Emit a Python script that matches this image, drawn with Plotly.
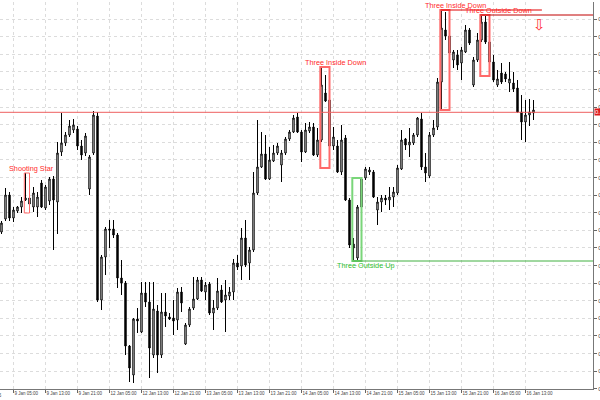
import plotly.graph_objects as go

# ---------------- data (hourly candles, 9 Jan 02:00 .. 16 Jan 15:00) ----------------
opens = [0.8068,0.8081,0.8105,0.8082,0.8089,0.8093,0.8100,0.8102,0.8093,0.8093,
         0.8117,0.8092,0.8099,0.8121,0.8098,0.8148,0.8157,0.8165,0.8170,0.8171,
         0.8154,0.8147,0.8111,0.8147,0.8184,0.8000,0.8043,0.8071,0.8071,0.8065,
         0.8022,0.8017,0.7954,0.7925,0.7981,0.7968,0.8007,0.7998,0.7945,0.7989,
         0.7945,0.7988,0.7983,0.7982,0.7980,0.8008,0.7956,0.7975,0.7992,0.8001,
         0.8020,0.8008,0.8016,0.7987,0.7992,0.8010,0.8000,0.8004,0.8008,0.8037,
         0.8034,0.8062,0.8037,0.8050,0.8107,0.8133,0.8146,0.8121,0.8139,0.8147,
         0.8135,0.8147,0.8161,0.8168,0.8183,0.8168,0.8148,0.8169,0.8173,0.8145,
         0.8160,0.8207,0.8200,0.8154,0.8154,0.8128,0.8162,0.8100,0.8056,0.8042,
         0.8093,0.8122,0.8128,0.8128,0.8090,0.8098,0.8102,0.8100,0.8103,0.8107,
         0.8131,0.8161,0.8155,0.8157,0.8165,0.8181,0.8133,0.8124,0.8165,0.8173,
         0.8218,0.8270,0.8264,0.8240,0.8245,0.8237,0.8248,0.8270,0.8215,0.8240,
         0.8260,0.8278,0.8258,0.8238,0.8215,0.8227,0.8226,0.8217,0.8217,0.8212,
         0.8188,0.8178,0.8185,0.8187]
highs = [0.8079,0.8112,0.8108,0.8093,0.8094,0.8103,0.8127,0.8105,0.8113,0.8108,
         0.8120,0.8115,0.8123,0.8124,0.8158,0.8187,0.8168,0.8180,0.8181,0.8174,
         0.8160,0.8167,0.8145,0.8189,0.8188,0.8045,0.8073,0.8080,0.8080,0.8067,
         0.8040,0.8019,0.7955,0.7982,0.7992,0.8018,0.8018,0.8018,0.8018,0.7995,
         0.8007,0.8007,0.7987,0.8000,0.8012,0.8013,0.7977,0.7993,0.8023,0.8023,
         0.8023,0.8018,0.8018,0.8000,0.8022,0.8015,0.8020,0.8013,0.8041,0.8045,
         0.8072,0.8080,0.8053,0.8128,0.8180,0.8168,0.8165,0.8153,0.8155,0.8157,
         0.8150,0.8163,0.8170,0.8185,0.8187,0.8170,0.8177,0.8178,0.8177,0.8172,
         0.8233,0.8225,0.8223,0.8173,0.8160,0.8175,0.8165,0.8102,0.8062,0.8095,
         0.8122,0.8133,0.8133,0.8130,0.8103,0.8105,0.8105,0.8113,0.8113,0.8135,
         0.8170,0.8162,0.8172,0.8167,0.8183,0.8187,0.8147,0.8168,0.8180,0.8222,
         0.8290,0.8288,0.8272,0.8250,0.8250,0.8253,0.8275,0.8272,0.8243,0.8267,
         0.8285,0.8284,0.8260,0.8245,0.8230,0.8237,0.8228,0.8238,0.8228,0.8220,
         0.8205,0.8200,0.8201,0.8200]
lows = [0.8066,0.8079,0.8079,0.8078,0.8087,0.8087,0.8099,0.8087,0.8088,0.8083,
        0.8092,0.8090,0.8095,0.8050,0.8066,0.8144,0.8154,0.8163,0.8167,0.8150,
        0.8140,0.8144,0.8105,0.8145,0.7998,0.7990,0.8025,0.8052,0.8062,0.8012,
        0.8005,0.7945,0.7918,0.7917,0.7967,0.7967,0.7993,0.7922,0.7942,0.7927,
        0.7942,0.7973,0.7980,0.7965,0.7970,0.7988,0.7955,0.7973,0.7990,0.8000,
        0.8008,0.8000,0.7985,0.7970,0.7990,0.7997,0.7968,0.8000,0.8000,0.8030,
        0.8020,0.8033,0.8020,0.8048,0.8105,0.8132,0.8120,0.8120,0.8138,0.8145,
        0.8118,0.8145,0.8159,0.8167,0.8167,0.8138,0.8147,0.8167,0.8144,0.8143,
        0.8158,0.8198,0.8132,0.8150,0.8127,0.8125,0.8099,0.8052,0.8039,0.8039,
        0.8092,0.8120,0.8125,0.8102,0.8075,0.8088,0.8095,0.8090,0.8093,0.8105,
        0.8130,0.8150,0.8143,0.8155,0.8163,0.8130,0.8118,0.8122,0.8163,0.8170,
        0.8190,0.8260,0.8240,0.8232,0.8230,0.8220,0.8247,0.8255,0.8213,0.8238,
        0.8258,0.8256,0.8224,0.8218,0.8213,0.8216,0.8218,0.8208,0.8208,0.8187,
        0.8160,0.8158,0.8174,0.8180]
closes = [0.8077,0.8105,0.8082,0.8090,0.8093,0.8099,0.8102,0.8096,0.8107,0.8103,
          0.8093,0.8113,0.8121,0.8100,0.8147,0.8157,0.8165,0.8174,0.8175,0.8154,
          0.8145,0.8164,0.8143,0.8185,0.8000,0.8043,0.8071,0.8070,0.8065,0.8022,
          0.8017,0.7954,0.7932,0.7981,0.7979,0.8007,0.7998,0.7952,0.7991,0.7945,
          0.7988,0.7984,0.7981,0.7979,0.8008,0.7997,0.7975,0.7991,0.8001,0.8020,
          0.8009,0.8015,0.7987,0.7992,0.8009,0.7998,0.8005,0.8008,0.8037,0.8033,
          0.8062,0.8035,0.8050,0.8107,0.8133,0.8146,0.8121,0.8140,0.8147,0.8154,
          0.8147,0.8161,0.8168,0.8182,0.8168,0.8148,0.8170,0.8173,0.8145,0.8160,
          0.8215,0.8199,0.8154,0.8163,0.8128,0.8160,0.8100,0.8055,0.8052,0.8093,
          0.8121,0.8131,0.8130,0.8103,0.8098,0.8102,0.8100,0.8103,0.8108,0.8132,
          0.8160,0.8155,0.8158,0.8165,0.8182,0.8133,0.8127,0.8165,0.8172,0.8218,
          0.8272,0.8264,0.8247,0.8248,0.8235,0.8250,0.8270,0.8257,0.8240,0.8260,
          0.8278,0.8258,0.8238,0.8220,0.8221,0.8218,0.8221,0.8221,0.8211,0.8188,
          0.8178,0.8185,0.8188,0.8190]

tick_idx = [3, 11, 19, 27, 35, 43, 51, 59, 67, 75, 83, 91, 99, 107, 115, 123, 131]
tick_text = ["9 Jan 05:00", "9 Jan 13:00", "9 Jan 21:00",
             "12 Jan 05:00", "12 Jan 13:00", "12 Jan 21:00",
             "13 Jan 05:00", "13 Jan 13:00", "13 Jan 21:00",
             "14 Jan 05:00", "14 Jan 13:00", "14 Jan 21:00",
             "15 Jan 05:00", "15 Jan 13:00", "15 Jan 21:00",
             "16 Jan 05:00", "16 Jan 13:00"]

level_price = 0.81877

# name, first candle, last candle, bullish?
pattern_names = ["Shooting Star", "Three Inside Down", "Three Outside Up",
                 "Three Inside Down", "Three Outside Down"]
pattern_first = [6, 80, 88, 110, 120]
pattern_last = [7, 82, 90, 112, 122]
pattern_bull = [False, False, True, False, False]
signal_idx = 135

# ---------------- figure ----------------
n = len(opens)
idx = list(range(n))
XMIN, XMAX = -0.375, 147.875
YMIN, YMAX = 0.7911, 0.8298

RED_TXT = "#ff2b2b"
RED_BOX = "#ff6a6a"
GREEN_TXT = "#2fbf2f"
GREEN_BOX = "#7ad67a"

fig = go.Figure()
fig.add_trace(go.Candlestick(
    x=idx, open=opens, high=highs, low=lows, close=closes,
    increasing=dict(line=dict(color="black", width=1), fillcolor="white"),
    decreasing=dict(line=dict(color="black", width=1), fillcolor="black"),
    whiskerwidth=0, showlegend=False, hoverinfo="skip"))

shapes = []
annotations = []

# horizontal level line
shapes.append(dict(type="line", xref="paper", x0=0, x1=1, yref="y",
                   y0=level_price, y1=level_price,
                   line=dict(color="#ee6060", width=1)))
annotations.append(dict(xref="paper", x=1, yref="y", y=level_price,
                        xanchor="left", yanchor="middle", xshift=1,
                        text="%.4f" % level_price, showarrow=False,
                        bgcolor="#e01818", borderpad=0,
                        font=dict(color="white", size=6, family="Liberation Sans")))

for k, name in enumerate(pattern_names):
    a, b = pattern_first[k], pattern_last[k]
    hi = max(highs[a:b + 1])
    lo = min(lows[a:b + 1])
    bull = pattern_bull[k]
    box_col = GREEN_BOX if bull else RED_BOX
    txt_col = GREEN_TXT if bull else RED_TXT
    lw = 1 if name == "Shooting Star" else 2
    shapes.append(dict(type="rect", xref="x", yref="y", x0=a - 0.3, x1=b,
                       y0=lo, y1=hi, line=dict(color=box_col, width=lw),
                       fillcolor="rgba(0,0,0,0)"))
    annotations.append(dict(xref="x", yref="y", x=a - 4.3,
                            y=lo if bull else hi,
                            xanchor="left", yanchor="top" if bull else "bottom",
                            yshift=1 if bull else -1,
                            text=name, showarrow=False, borderpad=0,
                            font=dict(color=txt_col, size=7.3, family="Liberation Sans")))

# pattern level lines
a, b = pattern_first[3], pattern_last[3]
y_l = max(highs[a:b + 1])
shapes.append(dict(type="line", xref="x", yref="y", x0=a - 0.2, x1=signal_idx + 0.1,
                   y0=y_l, y1=y_l, line=dict(color="#e00000", width=1)))
a, b = pattern_first[4], pattern_last[4]
y_l = max(highs[a:b + 1])
shapes.append(dict(type="line", xref="x", yref="y", x0=a - 0.3, x1=XMAX,
                   y0=y_l, y1=y_l, line=dict(color="#c00000", width=1)))
a, b = pattern_first[2], pattern_last[2]
y_l = min(lows[a:b + 1])
shapes.append(dict(type="line", xref="x", yref="y", x0=a - 0.3, x1=XMAX,
                   y0=y_l, y1=y_l, line=dict(color="#40b040", width=1)))

# signal arrow
annotations.append(dict(xref="x", yref="y", x=signal_idx - 0.6,
                        y=max(highs[pattern_first[4]:pattern_last[4] + 1]),
                        yanchor="top", xanchor="center", yshift=0,
                        text="\u21e9", showarrow=False, borderpad=0,
                        font=dict(color="#ff3030", size=15, family="DejaVu Sans")))

# leftmost cut-off date label
annotations.append(dict(xref="paper", yref="paper", x=0, y=0, xanchor="right",
                        yanchor="top", xshift=3, yshift=-3, text="9 Jan 2015",
                        showarrow=False, borderpad=0,
                        font=dict(color="#444", size=4.5, family="Liberation Sans")))

fig.update_layout(
    width=600, height=400,
    margin=dict(l=0, r=7, t=2, b=11, autoexpand=False),
    paper_bgcolor="white", plot_bgcolor="white",
    boxgap=0.5, separators=",.",
    shapes=shapes, annotations=annotations,
    xaxis=dict(range=[XMIN, XMAX], rangeslider=dict(visible=False),
               tickmode="array", tickvals=tick_idx, ticktext=tick_text,
               ticks="outside", ticklen=3, tickcolor="#666", tickangle=0,
               ticklabelposition="outside right",
               tickfont=dict(size=4.5, color="#444", family="Liberation Sans"),
               showline=True, linecolor="#777", linewidth=1,
               showgrid=True, gridcolor="#dcdcdc", griddash="dot", gridwidth=1,
               zeroline=False, fixedrange=True),
    yaxis=dict(range=[YMIN, YMAX], side="right",
               tick0=0.8281, dtick=0.00176, tickformat=".4f",
               ticks="outside", ticklen=3, tickcolor="#666",
               tickfont=dict(size=6, color="#444", family="Liberation Sans"),
               showline=True, linecolor="#777", linewidth=1,
               showgrid=True, gridcolor="#dcdcdc", griddash="dot", gridwidth=1,
               zeroline=False, fixedrange=True, automargin=False),
)

fig.write_html("out.html", config={"staticPlot": True},
               post_script="document.body.style.margin='0';document.body.style.padding='0';"
                           "document.body.style.overflow='hidden';")
